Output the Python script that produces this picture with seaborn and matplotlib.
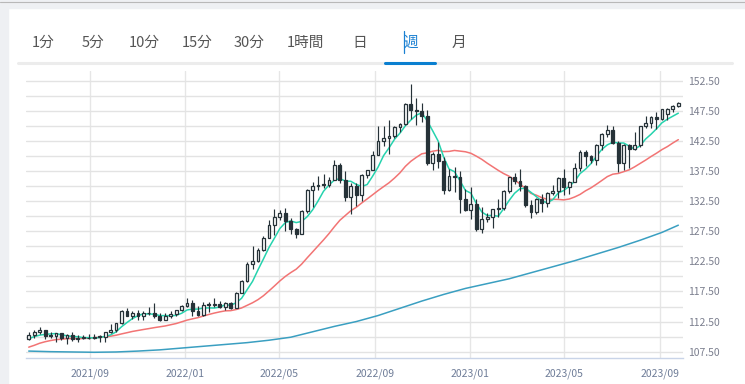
import numpy as np
import pandas as pd
import seaborn as sns
import matplotlib.pyplot as plt
import matplotlib.dates as mdates
from matplotlib.patches import Rectangle
from matplotlib.lines import Line2D

# Weekly candles (first week starts 2021-06-14)
start_week = "2021-06-14"
opens = [109.67, 110.21, 110.76, 111.05, 110.14, 110.07, 110.55, 109.71, 110.25, 109.58,
         109.79, 109.84, 109.71, 109.93, 109.97, 110.73, 111.06, 112.24, 114.22, 113.46,
         114.00, 113.40, 113.88, 114.00, 113.38, 112.80, 113.40, 113.70, 114.36, 115.08,
         115.54, 114.19, 113.67, 115.25, 115.22, 115.43, 114.99, 115.56, 114.80, 117.30,
         119.18, 122.05, 122.52, 124.35, 126.42, 128.50, 129.85, 130.56, 129.25, 127.87,
         127.10, 130.87, 134.40, 134.95, 135.22, 135.20, 136.08, 138.56, 136.07, 133.25,
         135.00, 133.45, 136.90, 137.65, 140.20, 142.55, 142.92, 143.35, 144.75, 145.35,
         148.70, 147.65, 147.47, 146.60, 138.75, 140.37, 139.15, 134.30, 136.70, 136.50,
         132.85, 131.10, 132.05, 127.90, 129.60, 129.85, 131.20, 131.40, 134.10, 136.45,
         135.85, 135.00, 131.80, 130.72, 132.80, 132.20, 133.80, 134.15, 136.30, 134.80,
         135.70, 137.95, 140.60, 139.95, 139.40, 141.85, 143.70, 144.30, 142.10, 138.80,
         141.80, 141.15, 141.75, 144.95, 145.40, 146.40, 146.20, 146.90, 147.85, 148.35]
highs = [110.82, 111.11, 111.66, 111.15, 110.70, 110.60, 110.59, 110.37, 110.80, 110.25,
         110.25, 110.42, 110.45, 110.20, 110.80, 112.08, 112.25, 114.47, 114.70, 114.30,
         114.44, 114.20, 114.97, 115.52, 113.95, 113.95, 114.25, 114.50, 115.18, 116.35,
         116.00, 115.06, 115.69, 115.68, 116.34, 115.87, 115.76, 115.80, 117.35, 119.42,
         122.44, 125.09, 124.68, 126.68, 129.40, 131.25, 131.00, 131.35, 129.77, 128.00,
         130.99, 134.55, 135.59, 136.71, 137.00, 136.57, 139.38, 138.87, 137.46, 135.50,
         135.57, 137.00, 137.70, 140.80, 144.99, 144.95, 145.90, 144.90, 145.45, 148.85,
         151.95, 149.70, 148.85, 147.60, 140.60, 142.25, 139.90, 137.86, 138.18, 137.48,
         134.50, 134.77, 132.87, 131.58, 130.60, 131.25, 132.90, 134.35, 136.50, 137.10,
         137.91, 135.10, 132.60, 133.00, 133.75, 134.00, 135.10, 136.55, 137.77, 135.80,
         138.75, 140.93, 140.93, 140.20, 141.90, 143.80, 145.07, 144.90, 142.50, 141.95,
         142.00, 143.90, 145.00, 146.56, 146.60, 147.37, 147.87, 147.95, 148.45, 148.95]
lows = [109.50, 109.71, 110.40, 109.53, 109.70, 109.07, 109.36, 108.72, 109.20, 109.10,
        109.60, 109.60, 109.60, 109.10, 109.11, 110.60, 110.82, 112.10, 113.40, 112.95,
        112.70, 112.73, 113.60, 113.05, 112.53, 112.70, 113.14, 113.50, 114.30, 115.00,
        113.48, 113.47, 113.47, 114.15, 114.90, 114.75, 114.40, 114.65, 114.70, 117.20,
        119.00, 121.30, 122.40, 124.20, 126.30, 126.94, 129.30, 127.52, 126.96, 126.36,
        127.00, 130.60, 131.49, 134.27, 134.74, 134.90, 135.98, 135.57, 132.51, 130.40,
        131.73, 132.55, 136.30, 137.60, 140.10, 141.60, 140.35, 143.00, 143.90, 145.20,
        146.20, 145.10, 145.70, 138.47, 137.67, 138.05, 133.62, 134.10, 134.07, 130.58,
        130.80, 129.52, 127.46, 127.22, 129.00, 128.08, 129.80, 130.95, 133.90, 135.30,
        134.10, 131.60, 129.64, 130.40, 130.63, 131.60, 133.50, 133.00, 133.50, 133.75,
        135.60, 137.50, 138.40, 138.80, 138.50, 141.00, 143.20, 142.00, 137.25, 137.70,
        138.05, 141.00, 141.50, 144.60, 144.60, 144.45, 146.00, 145.90, 147.30, 148.10]
closes = [110.21, 110.76, 111.05, 110.14, 110.07, 110.55, 109.71, 110.25, 109.58, 109.79,
          109.84, 109.71, 109.93, 109.97, 110.73, 111.06, 112.24, 114.22, 113.46, 114.00,
          113.40, 113.88, 114.00, 113.38, 112.80, 113.40, 113.70, 114.36, 115.08, 115.54,
          114.19, 113.67, 115.25, 115.22, 115.43, 114.99, 115.56, 114.80, 117.30, 119.18,
          122.05, 122.52, 124.35, 126.42, 128.50, 129.85, 130.56, 129.25, 127.87, 127.10,
          130.87, 134.40, 134.95, 135.22, 135.20, 136.08, 138.56, 136.07, 133.25, 135.00,
          133.45, 136.90, 137.65, 140.20, 142.55, 142.92, 143.35, 144.75, 145.35, 148.70,
          147.65, 147.47, 146.60, 138.75, 140.37, 139.15, 134.30, 136.60, 136.50, 132.85,
          131.10, 132.05, 127.90, 129.60, 129.85, 131.20, 131.40, 134.10, 136.45, 135.85,
          135.00, 131.80, 130.72, 132.80, 132.20, 133.80, 134.15, 136.30, 134.80, 135.70,
          137.95, 140.60, 139.95, 139.40, 141.85, 143.70, 144.30, 142.10, 138.80, 141.80,
          141.15, 141.75, 144.95, 145.40, 146.40, 146.20, 147.80, 147.85, 148.35, 148.75]

# moving averages
ma_fast = [109.64, 110.00, 110.24, 110.37, 110.45, 110.51, 110.30, 110.14, 110.03, 109.98,
           109.83, 109.83, 109.77, 109.85, 110.04, 110.28, 110.79, 111.64, 112.34, 113.00,
           113.46, 113.79, 113.75, 113.73, 113.49, 113.49, 113.46, 113.53, 113.87, 114.42,
           114.57, 114.57, 114.75, 114.77, 114.75, 114.91, 115.29, 115.20, 115.62, 116.37,
           117.78, 119.17, 121.08, 122.90, 124.77, 126.33, 127.94, 128.92, 129.21, 128.93,
           129.13, 129.90, 131.04, 132.51, 134.13, 135.17, 136.00, 136.23, 135.83, 135.79,
           135.27, 134.93, 135.25, 136.64, 138.15, 140.04, 141.33, 142.75, 143.78, 145.01,
           145.96, 146.78, 147.15, 145.83, 144.17, 142.47, 139.83, 137.83, 137.38, 135.88,
           134.27, 133.82, 132.08, 130.70, 130.10, 130.12, 129.99, 131.23, 132.60, 133.80,
           134.56, 134.64, 133.96, 133.23, 132.50, 132.26, 132.73, 133.85, 134.25, 134.95,
           135.78, 137.07, 137.80, 138.72, 139.95, 141.10, 141.84, 142.27, 142.15, 142.14,
           141.63, 141.12, 141.69, 142.80, 143.60, 144.50, 145.50, 146.10, 146.60, 147.10]
ma_mid = [108.25, 108.55, 108.90, 109.15, 109.35, 109.50, 109.57, 109.66, 109.68, 109.66,
          109.69, 109.74, 109.84, 109.87, 109.98, 110.07, 110.23, 110.45, 110.65, 110.86,
          111.02, 111.18, 111.33, 111.49, 111.63, 111.77, 111.97, 112.17, 112.45, 112.74,
          112.95, 113.15, 113.42, 113.68, 113.91, 114.11, 114.28, 114.31, 114.50, 114.76,
          115.19, 115.62, 116.14, 116.79, 117.58, 118.40, 119.24, 119.99, 120.63, 121.20,
          122.04, 123.07, 124.06, 125.06, 126.05, 127.10, 128.25, 129.32, 130.11, 130.90,
          131.47, 132.19, 132.86, 133.55, 134.25, 134.90, 135.54, 136.32, 137.19, 138.27,
          139.11, 139.76, 140.35, 140.52, 140.78, 140.93, 140.72, 140.75, 140.91, 140.80,
          140.69, 140.44, 139.96, 139.43, 138.79, 138.20, 137.61, 137.07, 136.63, 135.99,
          135.35, 134.57, 133.78, 133.48, 133.07, 132.80, 132.80, 132.78, 132.70, 132.84,
          133.18, 133.61, 134.21, 134.70, 135.30, 135.93, 136.57, 136.97, 137.09, 137.39,
          137.69, 138.19, 138.75, 139.30, 139.90, 140.45, 141.05, 141.55, 142.15, 142.70]
slow_weeks = [0, 4, 8, 12, 16, 20, 24, 28, 32, 36, 40, 44, 48, 52, 56, 60,
              64, 68, 72, 76, 80, 84, 88, 92, 96, 100, 104, 108, 112, 116, 119]
ma_slow = [107.6, 107.5, 107.45, 107.4, 107.45, 107.6, 107.8, 108.1, 108.4, 108.7,
           109.0, 109.4, 109.9, 110.8, 111.7, 112.5, 113.5, 114.7, 115.9, 117.0,
           118.0, 118.8, 119.6, 120.6, 121.6, 122.6, 123.7, 124.8, 126.0, 127.3, 128.5]

month_ticks = ["2021-09-01", "2022-01-01", "2022-05-01", "2022-09-01",
               "2023-01-01", "2023-05-01", "2023-09-01"]
tabs = ["1分", "5分", "10分", "15分", "30分", "1時間", "日", "週", "月"]
active_tab = "週"

sns.set_style("white")
plt.rcParams['font.family'] = ['Noto Sans CJK JP', 'DejaVu Sans']

W, H = 745, 384
fig = plt.figure(figsize=(W / 100, H / 100), dpi=100)
fig.patch.set_facecolor("white")


def fx(px):
    return px / W


def fy(py):
    return 1 - py / H


# page frame
fig.patches.append(Rectangle((0, fy(8)), 1, 8 / H, transform=fig.transFigure,
                             color="#eef0f3", zorder=0))
fig.patches.append(Rectangle((0, 0), fx(8), 1, transform=fig.transFigure,
                             color="#eef0f3", zorder=0))
fig.lines.append(Line2D([0, 1], [fy(2), fy(2)], transform=fig.transFigure,
                        color="#b8b8b8", lw=0.8))

# timeframe tabs
tab_px = [43, 93, 144, 197, 249, 305, 360, 411, 459]
for label, px in zip(tabs, tab_px):
    col = "#1a80d2" if label == active_tab else "#555555"
    fig.text(fx(px), fy(43), label, ha="center", va="center", fontsize=10.5, color=col)
fig.lines.append(Line2D([fx(18), fx(732)], [fy(62.5), fy(62.5)], transform=fig.transFigure,
                        color="#ececec", lw=2.2))
fig.lines.append(Line2D([fx(385), fx(435)], [fy(62.5), fy(62.5)], transform=fig.transFigure,
                        color="#0a7fd0", lw=2.2))
fig.lines.append(Line2D([fx(404), fx(404)], [fy(31), fy(53)], transform=fig.transFigure,
                        color="#1a80d2", lw=0.9))

# chart
ax = fig.add_axes([fx(26), 1 - 358 / H, fx(683) - fx(26), (358 - 71) / H])
ax.set_facecolor("white")

dates = pd.date_range(start_week, periods=len(closes), freq="7D")
x = mdates.date2num(dates)
o = np.array(opens)
c = np.array(closes)
up = c >= o
dark = "#263238"

sns.lineplot(x=x[slow_weeks], y=ma_slow, color="#3a9fc1", lw=1.1, ax=ax, zorder=2)
sns.lineplot(x=x, y=ma_mid, color="#f27474", lw=1.1, ax=ax, zorder=2)
sns.lineplot(x=x, y=ma_fast, color="#26d3ae", lw=1.1, ax=ax, zorder=2)

ax.vlines(x, lows, highs, color=dark, lw=0.85, zorder=3)
body_lo = np.minimum(o, c)
body_h = np.maximum(np.abs(c - o), 0.12)
ax.bar(x[up], body_h[up], bottom=body_lo[up], width=3.6, color="white",
       edgecolor=dark, linewidth=0.9, zorder=4)
ax.bar(x[~up], body_h[~up], bottom=body_lo[~up], width=3.6, color=dark,
       edgecolor=dark, linewidth=0.9, zorder=4)

ax.set_xlim(mdates.datestr2num("2021-06-10 12:00"), mdates.datestr2num("2023-10-01"))
ax.set_ylim(106.45, 154.1)

tick_dates = pd.to_datetime(month_ticks)
ax.set_xticks(mdates.date2num(tick_dates))
ax.set_xticklabels([d.strftime("%Y/%m") for d in tick_dates])

ax.yaxis.tick_right()
yt = np.arange(107.5, 153, 5)
ax.set_yticks(yt)
ax.set_yticklabels([f"{v:.2f}" for v in yt])
ax.set_yticks(np.arange(110, 151, 5), minor=True)

ax.grid(True, which="both", axis="y", color="#e3e3e3", lw=1.0)
ax.grid(True, which="major", axis="x", color="#e6e6e6", lw=1.0)
ax.set_axisbelow(True)

ax.tick_params(axis="y", which="both", length=0, pad=3.5, labelsize=7.5, labelcolor="#7b7f8e")
ax.tick_params(axis="x", length=6, width=1, color="#d3dbea", pad=1.5,
               labelsize=7.5, labelcolor="#6f7d98")
for side in ["top", "left", "right"]:
    ax.spines[side].set_visible(False)
ax.spines["bottom"].set_color("#c9d4e8")
ax.spines["bottom"].set_linewidth(1.0)
ax.set_xlabel("")
ax.set_ylabel("")

fig.savefig("out.png", dpi=100)
